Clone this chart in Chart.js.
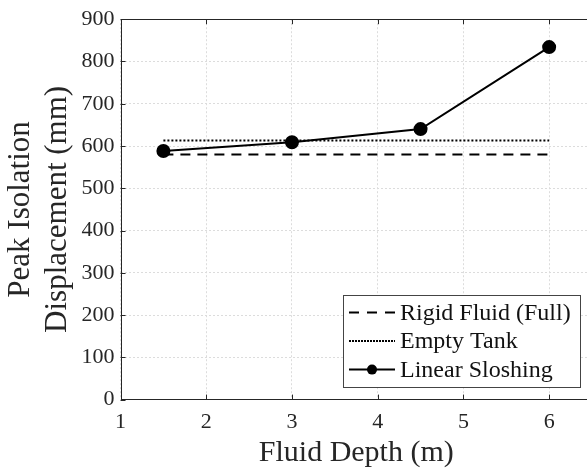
<!DOCTYPE html>
<html>
<head>
<meta charset="utf-8">
<script src="https://cdn.jsdelivr.net/npm/chart.js@4.4.1/dist/chart.umd.min.js"></script>
<style>
  html, body { margin: 0; padding: 0; background: #fff; overflow: hidden; }
  #wrap { width: 600px; height: 475px; }
</style>
</head>
<body>
<div id="wrap"><canvas id="mainChart" width="600" height="475"></canvas></div>
<script>
// Data
const depths = [1.5, 3, 4.5, 6];
const rigidFluid = [580, 580, 580, 580];
const emptyTank = [613, 613, 613, 613];
const linearSloshing = [588, 609, 640, 834];
const seriesLabels = ['Rigid Fluid (Full)', 'Empty Tank', 'Linear Sloshing'];
const xTicks = [1, 2, 3, 4, 5, 6];

const FONT = '"Liberation Serif", "Times New Roman", serif';
const TEXT = '#262626';

function toPoints(values) {
    return depths.map((d, i) => ({ x: d, y: values[i] }));
}

// Box, inward ticks and legend in MATLAB style
const matlabFrame = {
    id: 'matlabFrame',
    afterDatasetsDraw(chart) {
        const ctx = chart.ctx;
        const a = chart.chartArea;
        const xs = chart.scales.x, ys = chart.scales.y;
        ctx.save();
        ctx.strokeStyle = TEXT;
        ctx.lineWidth = 1;
        ctx.setLineDash([]);
        ctx.beginPath();
        xs.ticks.forEach(t => {
            const px = Math.round(xs.getPixelForValue(t.value)) + 0.5;
            ctx.moveTo(px, a.bottom); ctx.lineTo(px, a.bottom - 5);
            ctx.moveTo(px, a.top); ctx.lineTo(px, a.top + 5);
        });
        ys.ticks.forEach(t => {
            const py = Math.round(ys.getPixelForValue(t.value)) + 0.5;
            ctx.moveTo(a.left, py); ctx.lineTo(a.left + 5, py);
            ctx.moveTo(a.right, py); ctx.lineTo(a.right - 5, py);
        });
        ctx.stroke();
        ctx.strokeRect(Math.round(a.left) + 0.5, Math.round(a.top) + 0.5,
            Math.round(a.right - a.left), Math.round(a.bottom - a.top));

        // legend
        const boxW = 237, boxH = 92;
        const bx = a.right - 12 - boxW, by = a.bottom - 13 - boxH;
        ctx.fillStyle = '#fff';
        ctx.fillRect(bx, by, boxW, boxH);
        ctx.strokeStyle = '#444';
        ctx.strokeRect(Math.round(bx) + 0.5, Math.round(by) + 0.5, boxW, boxH);
        ctx.font = '24px ' + FONT;
        ctx.textBaseline = 'middle';
        chart.data.datasets.forEach((ds, i) => {
            const ly = by + 18 + i * 28.5;
            ctx.strokeStyle = ds.borderColor;
            ctx.lineWidth = ds.borderWidth;
            ctx.setLineDash(ds.legendDash || []);
            ctx.beginPath();
            ctx.moveTo(bx + 6, ly); ctx.lineTo(bx + 52, ly);
            ctx.stroke();
            ctx.setLineDash([]);
            if (ds.pointRadius > 0) {
                ctx.fillStyle = ds.pointBackgroundColor;
                ctx.beginPath();
                ctx.arc(bx + 29, ly, 5, 0, Math.PI * 2);
                ctx.fill();
            }
            ctx.fillStyle = '#111';
            ctx.fillText(ds.label, bx + 57, ly + 1);
        });
        ctx.restore();
    }
};

function createChart() {
    const ctx = document.getElementById('mainChart').getContext('2d');
    new Chart(ctx, {
        type: 'line',
        data: {
            datasets: [
                {
                    label: seriesLabels[0],
                    data: toPoints(rigidFluid),
                    borderColor: '#000',
                    borderWidth: 2,
                    borderDash: [10, 7],
                    legendDash: [10, 8],
                    pointRadius: 0
                },
                {
                    label: seriesLabels[1],
                    data: toPoints(emptyTank),
                    borderColor: '#000',
                    borderWidth: 2,
                    borderDash: [2, 2],
                    legendDash: [2, 1],
                    pointRadius: 0
                },
                {
                    label: seriesLabels[2],
                    data: toPoints(linearSloshing),
                    borderColor: '#000',
                    borderWidth: 2,
                    pointRadius: 6,
                    pointBackgroundColor: '#000',
                    pointBorderColor: '#000'
                }
            ]
        },
        options: {
            responsive: false,
            animation: false,
            layout: { padding: { top: 0, right: 6, left: 0, bottom: 0 } },
            plugins: {
                legend: { display: false },
                tooltip: { enabled: false }
            },
            scales: {
                x: {
                    type: 'linear',
                    min: 1,
                    max: 6.5,
                    afterBuildTicks: scale => {
                        scale.ticks = xTicks.map(v => ({ value: v }));
                    },
                    grid: { color: '#dcdcdc', drawTicks: false },
                    border: { display: false, dash: [2, 2] },
                    ticks: {
                        color: TEXT,
                        font: { family: FONT, size: 22 },
                        padding: 9
                    },
                    title: {
                        display: true,
                        text: 'Fluid Depth (m)',
                        color: TEXT,
                        font: { family: FONT, size: 30 },
                        padding: { top: -9, bottom: 4 }
                    }
                },
                y: {
                    min: 0,
                    max: 900,
                    ticks: {
                        stepSize: 100,
                        color: TEXT,
                        font: { family: FONT, size: 22 },
                        padding: 6
                    },
                    grid: { color: '#dcdcdc', drawTicks: false },
                    border: { display: false, dash: [2, 2] },
                    title: {
                        display: true,
                        text: ['Peak Isolation', 'Displacement (mm)'],
                        color: TEXT,
                        font: { family: FONT, size: 31, lineHeight: 1.17 },
                        padding: { top: 3, bottom: 0 }
                    }
                }
            }
        },
        plugins: [matlabFrame]
    });
}

createChart();
</script>
</body>
</html>
